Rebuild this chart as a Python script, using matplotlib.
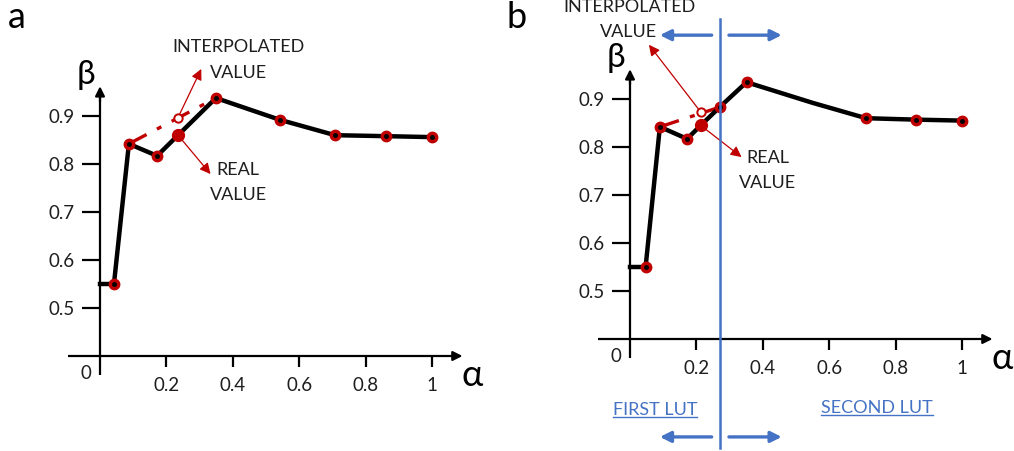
import matplotlib
matplotlib.use("Agg")
import matplotlib.pyplot as plt

plt.rcParams['font.family'] = ['Lato', 'DejaVu Sans']

# ---- data (panel a) ----
alpha_a = [0.0, 0.042, 0.087, 0.172, 0.235, 0.349, 0.542, 0.708, 0.861, 1.0]
beta_a = [0.55, 0.55, 0.842, 0.817, 0.860, 0.9375, 0.892, 0.860, 0.858, 0.856]
marker_idx_a = [1, 2, 3, 5, 6, 7, 8, 9]
real_idx_a = 4
interp_a = (0.235, 0.8965)
interp_from_a = 2
interp_to_a = 5

# ---- data (panel b) ----
alpha_b = [0.0, 0.047, 0.09, 0.172, 0.213, 0.27, 0.351, 0.55, 0.711, 0.861, 1.0]
beta_b = [0.55, 0.55, 0.842, 0.817, 0.845, 0.883, 0.935, 0.892, 0.860, 0.857, 0.855]
marker_idx_b = [1, 2, 3, 5, 6, 8, 9, 10]
real_idx_b = 4
interp_b = (0.213, 0.873)
interp_from_b = 2
interp_to_b = 5
lut_split = 0.27

xticks = [0.2, 0.4, 0.6, 0.8, 1.0]
xticklabels = ['0.2', '0.4', '0.6', '0.8', '1']
yticks = [0.5, 0.6, 0.7, 0.8, 0.9]
yticklabels = ['0.5', '0.6', '0.7', '0.8', '0.9']

RED = '#c00000'
BLUE = '#4472c4'
TXT = '#1e1e1e'
W, H = 1014, 451

fig = plt.figure(figsize=(W / 100, H / 100), dpi=100)


def make_axes(x0_px, xaxis_px):
    # alpha in [-0.1, 1.1] (332 px / unit), beta in [0.3, 1.0] (480 px / unit)
    left = (x0_px - 0.1 * 332) / W
    width = 1.2 * 332 / W
    top_px = xaxis_px - 0.6 * 480
    bottom_px = xaxis_px + 0.1 * 480
    ax = fig.add_axes([left, 1 - bottom_px / H, width, (bottom_px - top_px) / H])
    ax.set_xlim(-0.1, 1.1)
    ax.set_ylim(0.3, 1.0)
    ax.patch.set_alpha(0)
    for s in ['top', 'right']:
        ax.spines[s].set_visible(False)
    ax.spines['left'].set_position(('data', 0))
    ax.spines['bottom'].set_position(('data', 0.4))
    ax.spines['left'].set_bounds(0.36, 0.94)
    ax.spines['bottom'].set_bounds(-0.096, 1.07)
    for s in ['left', 'bottom']:
        ax.spines[s].set_linewidth(1.6)
        ax.spines[s].set_capstyle('butt')
    ax.set_xticks(xticks)
    ax.set_xticklabels(xticklabels)
    ax.set_yticks(yticks)
    ax.set_yticklabels(yticklabels)
    ax.tick_params(axis='y', length=13, width=1.6, pad=5, labelsize=13.5, labelcolor=TXT)
    ax.tick_params(axis='x', length=8, width=1.6, pad=7, labelsize=13.5, labelcolor=TXT)
    # arrow heads
    ax.annotate('', xy=(0, 0.962), xytext=(0, 0.93),
                arrowprops=dict(arrowstyle='-|>', color='black', lw=1.6, mutation_scale=14,
                                shrinkA=0, shrinkB=0), annotation_clip=False)
    ax.annotate('', xy=(1.092, 0.4), xytext=(1.06, 0.4),
                arrowprops=dict(arrowstyle='-|>', color='black', lw=1.6, mutation_scale=14,
                                shrinkA=0, shrinkB=0), annotation_clip=False)
    ax.text(-0.042, 0.363, '0', fontsize=13.5, ha='center', va='center', color=TXT)
    ax.text(-0.042, 0.985, 'β', fontsize=24, ha='center', va='center')
    ax.text(1.12, 0.36, 'α', fontsize=26, ha='center', va='center', clip_on=False)
    return ax


def draw_curve(ax, alpha, beta, marker_idx, real_idx, interp, i_from, i_to):
    ax.plot([alpha[i_from], alpha[i_to]], [beta[i_from], beta[i_to]], color=RED, lw=2.4,
            linestyle=(0, (6, 3.5, 1.5, 3.5)), zorder=3)
    ax.plot(alpha, beta, color='black', lw=3.2, solid_joinstyle='miter', zorder=4)
    mx = [alpha[i] for i in marker_idx]
    my = [beta[i] for i in marker_idx]
    ax.plot(mx, my, 'o', ms=7.5, mfc=RED, mec=RED, zorder=5)
    ax.plot(mx, my, 'o', ms=2.5, mfc='black', mec='black', zorder=6)
    ax.plot([alpha[real_idx]], [beta[real_idx]], 'o', ms=8.5, mfc=RED, mec=RED, zorder=6)
    ax.plot([interp[0]], [interp[1]], 'o', ms=6, mfc='white', mec=RED, mew=1.4, zorder=6)


def red_arrow(ax, start, end):
    ax.annotate('', xy=end, xytext=start,
                arrowprops=dict(arrowstyle='-|>', color=RED, lw=0.9, mutation_scale=16,
                                shrinkA=0, shrinkB=0), annotation_clip=False)


def blue_arrow(ax, start, end):
    ax.annotate('', xy=end, xytext=start,
                arrowprops=dict(arrowstyle='-|>', color=BLUE, lw=2.4, mutation_scale=16,
                                shrinkA=0, shrinkB=0), annotation_clip=False)


def underlined(ax, x, y, s):
    t = ax.text(x, y, s, fontsize=13, ha='center', va='center', color=BLUE)
    fig.canvas.draw()
    bb = t.get_window_extent(renderer=fig.canvas.get_renderer())
    inv = ax.transData.inverted()
    (x0, y0), (x1, y1) = inv.transform([(bb.x0, bb.y0), (bb.x1, bb.y1)])
    ax.plot([x0, x1], [y0 + (y1 - y0) * 0.05, y0 + (y1 - y0) * 0.05], color=BLUE, lw=1.0,
            clip_on=False)


# ---------------- panel a ----------------
axa = make_axes(100, 356)
draw_curve(axa, alpha_a, beta_a, marker_idx_a, real_idx_a, interp_a, interp_from_a, interp_to_a)
red_arrow(axa, (interp_a[0] + 0.004, interp_a[1] + 0.006), (0.305, 0.998))
red_arrow(axa, (alpha_a[real_idx_a], beta_a[real_idx_a]), (0.333, 0.779))
txt = dict(fontsize=13, ha='center', va='center', color=TXT)
axa.text(0.416, 1.044, 'INTERPOLATED', **txt)
axa.text(0.416, 0.99, 'VALUE', **txt)
axa.text(0.416, 0.7875, 'REAL', **txt)
axa.text(0.416, 0.735, 'VALUE', **txt)
fig.text(17 / W, 1 - 17 / H, 'a', fontsize=26, ha='center', va='center')

# ---------------- panel b ----------------
axb = make_axes(630, 339)
draw_curve(axb, alpha_b, beta_b, marker_idx_b, real_idx_b, interp_b, interp_from_b, interp_to_b)
axb.plot([lut_split, lut_split], [0.173, 1.067], color=BLUE, lw=1.8, zorder=7, clip_on=False)
red_arrow(axb, interp_b, (0.057, 1.013))
red_arrow(axb, (alpha_b[real_idx_b], beta_b[real_idx_b]), (0.336, 0.779))
axb.text(-0.003, 1.092, 'INTERPOLATED', **txt)
axb.text(-0.006, 1.04, 'VALUE', **txt)
axb.text(0.414, 0.777, 'REAL', **txt)
axb.text(0.414, 0.725, 'VALUE', **txt)
for yb in (1.033, 0.196):
    blue_arrow(axb, (lut_split - 0.024, yb), (0.09, yb))
    blue_arrow(axb, (lut_split + 0.028, yb), (0.457, yb))
underlined(axb, 0.075, 0.252, 'FIRST LUT')
underlined(axb, 0.745, 0.256, 'SECOND LUT')
fig.text(517 / W, 1 - 17 / H, 'b', fontsize=26, ha='center', va='center')

fig.savefig('out.png', dpi=100)
